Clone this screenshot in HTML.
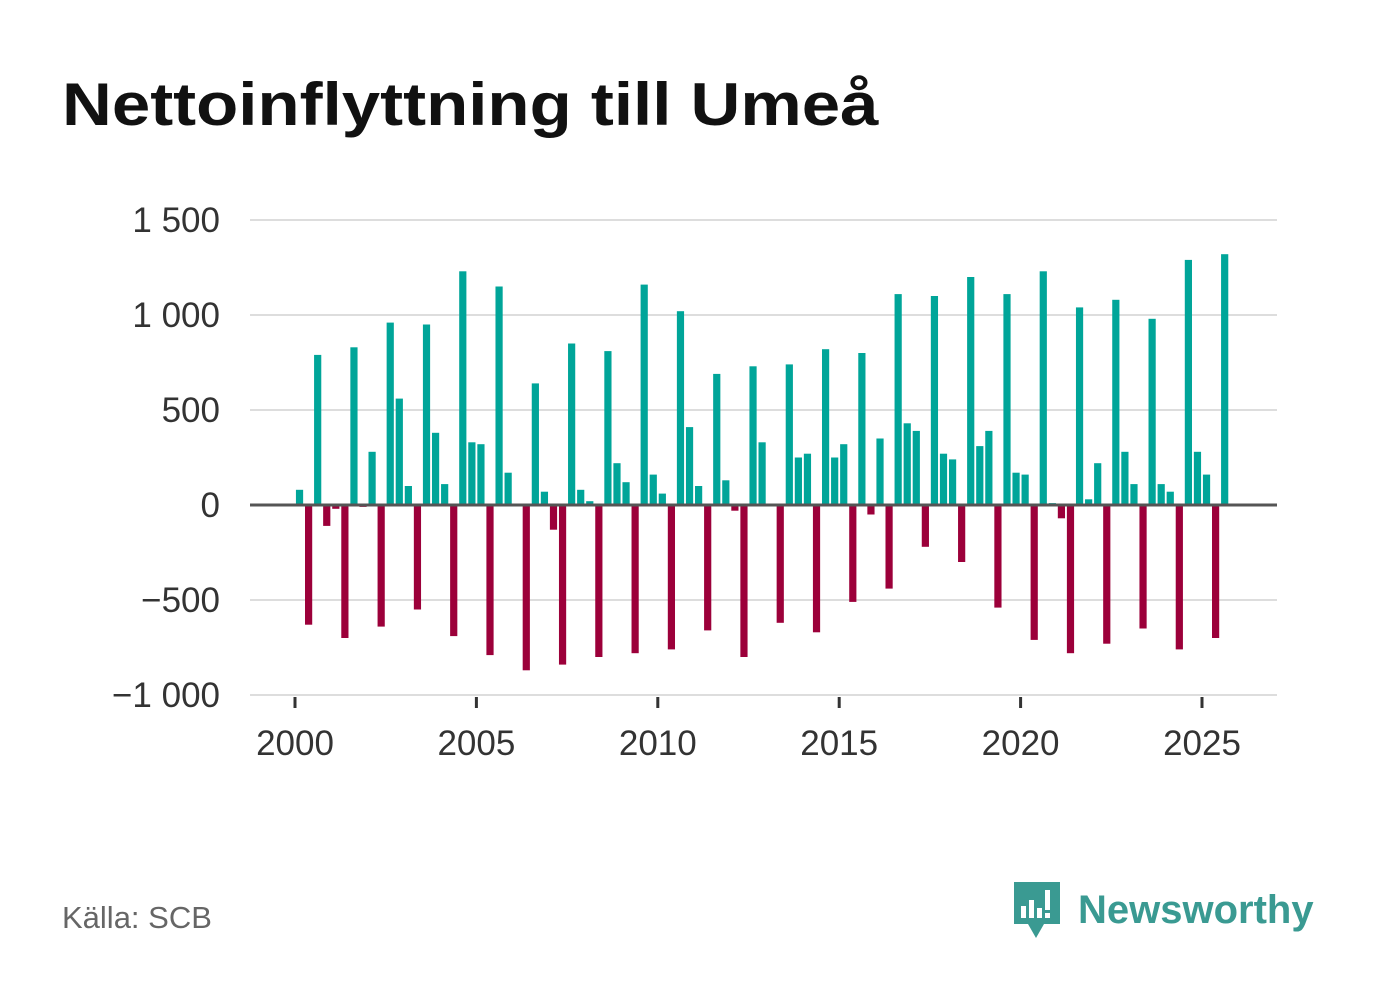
<!DOCTYPE html>
<html><head><meta charset="utf-8"><style>
body{margin:0;background:#fff;font-family:"Liberation Sans",sans-serif;}
#wrap{position:relative;width:1382px;height:999px;overflow:hidden;}
h1{position:absolute;left:62px;top:70px;margin:0;font-size:60px;font-weight:bold;color:#111;transform:scaleX(1.15);transform-origin:left top;white-space:nowrap;}
.src{position:absolute;left:62px;top:900px;font-size:31px;color:#666;}
.logo{position:absolute;left:1012px;top:880px;display:flex;align-items:center;}
.logo span{font-size:40px;font-weight:bold;color:#3a9a92;margin-left:16px;}
</style></head><body><div id="wrap">
<h1>Nettoinflyttning till Umeå</h1>
<svg id="chart" width="1382" height="999" style="position:absolute;left:0;top:0"></svg>
<div class="src">Källa: SCB</div>
<div class="logo">
<svg width="50" height="60" viewBox="0 0 50 60"><path d="M2 2h46v42H32l-8 14-8-14H2z" fill="#3a9a92"/><rect x="9" y="26" width="5" height="12" fill="#fff"/><rect x="17" y="20" width="5" height="18" fill="#fff"/><rect x="25" y="28" width="5" height="10" fill="#fff"/><rect x="33" y="10" width="5" height="20" fill="#fff"/><rect x="33" y="33" width="5" height="5" fill="#fff"/></svg>
<span>Newsworthy</span></div>
</div>
<script>
const values=[80,-630,790,-110,-20,-700,830,-10,280,-640,960,560,100,-550,950,380,110,-690,1230,330,320,-790,1150,170,0,-870,640,70,-130,-840,850,80,20,-800,810,220,120,-780,1160,160,60,-760,1020,410,100,-660,690,130,-30,-800,730,330,0,-620,740,250,270,-670,820,250,320,-510,800,-50,350,-440,1110,430,390,-220,1100,270,240,-300,1200,310,390,-540,1110,170,160,-710,1230,10,-70,-780,1040,30,220,-730,1080,280,110,-650,980,110,70,-760,1290,280,160,-700,1320];
const startYear=2000;
const yTicks=[1500,1000,500,0,-500,-1000];
const yLabels=["1 500","1 000","500","0","−500","−1 000"];
const xTicks=[2000,2005,2010,2015,2020,2025];
const NS="http://www.w3.org/2000/svg";
const svg=document.getElementById('chart');
const y=v=>505-v*0.19;
const x=t=>295+(t-2000)*36.28;
function mk(tag,a){const e=document.createElementNS(NS,tag);for(const k in a)e.setAttribute(k,a[k]);svg.appendChild(e);return e;}
yTicks.forEach((t,i)=>{
 if(t!==0){const l=mk('line',{x1:250,x2:1277,y1:y(t),y2:y(t),stroke:'#ddd','stroke-width':2});
 
 }
 const tx=mk('text',{x:220,y:y(t)+12,'text-anchor':'end','font-size':35,fill:'#333','font-family':'Liberation Sans, sans-serif'});
 tx.textContent=yLabels[i];
 
 
});
values.forEach((v,i)=>{
 const t=startYear+(i+0.5)/4;
 const r=mk('rect',{x:x(t)-3.6,width:7.2,y:Math.min(y(v),y(0)),height:Math.abs(y(v)-y(0)),fill:v>=0?'#00a599':'#9c003a'});
 
 
});
const z=mk('line',{x1:250,x2:1277,y1:y(0),y2:y(0),stroke:'#555','stroke-width':3});


xTicks.forEach(t=>{
 const l=mk('line',{x1:x(t),x2:x(t),y1:697,y2:708,stroke:'#333','stroke-width':3});
 
 
 const tx=mk('text',{x:x(t),y:755,'text-anchor':'middle','font-size':35,fill:'#333','font-family':'Liberation Sans, sans-serif'});
 tx.textContent=t;
 
 
});
</script></body></html>
